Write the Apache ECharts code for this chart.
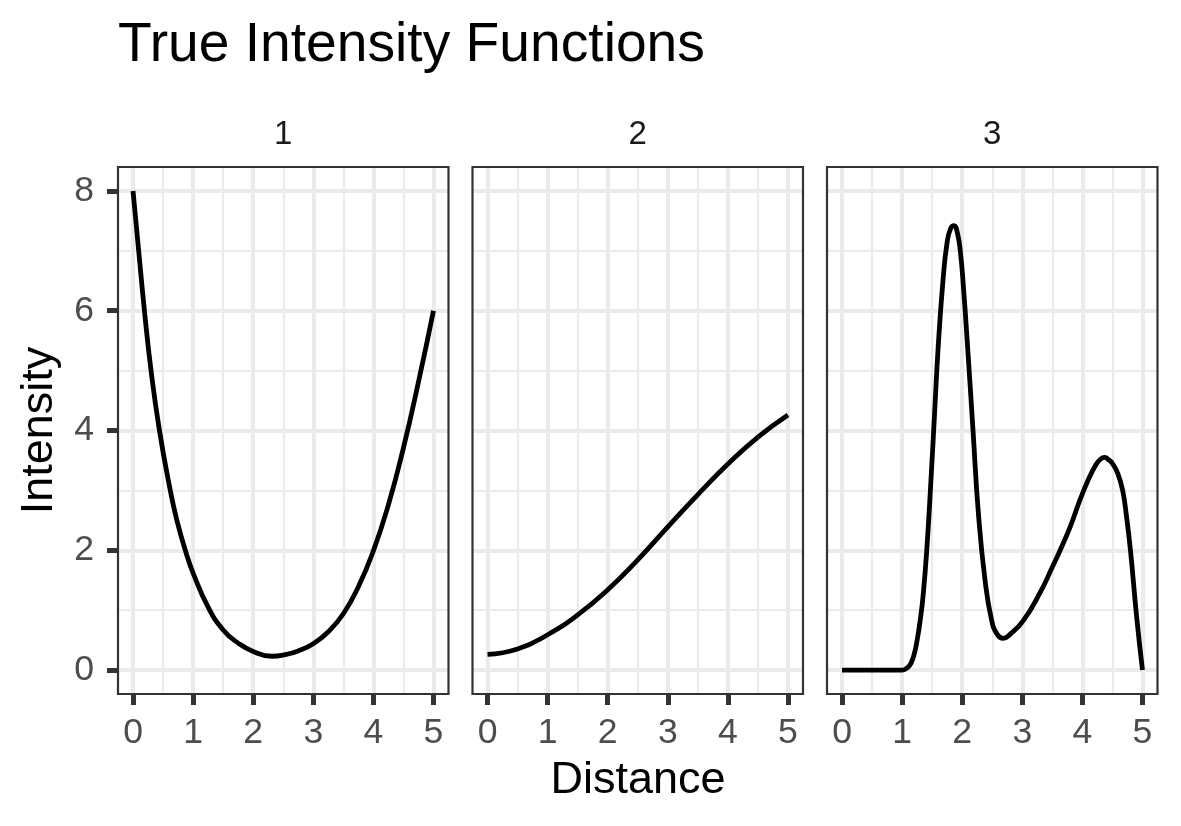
<!DOCTYPE html>
<html>
<head>
<meta charset="utf-8">
<title>True Intensity Functions</title>
<script src="https://cdn.jsdelivr.net/npm/echarts@6/dist/echarts.min.js"></script>
<style>
html, body { margin: 0; padding: 0; background: #ffffff; }
#chart { width: 1181px; height: 826px; }
</style>
</head>
<body>
<div id="chart"></div>
<script>
// panel 1 : dip in the middle
var dist_1 = [0, 0.094, 0.19, 0.30, 0.44, 0.62, 0.73, 0.87, 1.0, 1.25, 1.5, 1.75, 2.0, 2.31, 2.5, 2.75, 3.0, 3.25, 3.5, 3.75, 4.0, 4.25, 4.5, 4.75, 5.0];
var intensity_1 = [8, 7, 6, 5, 4, 3, 2.5, 2, 1.62, 1.05, 0.67, 0.45, 0.31, 0.23, 0.25, 0.32, 0.44, 0.64, 0.94, 1.39, 1.99, 2.76, 3.71, 4.81, 6.0];

// panel 2 : slow rise
var dist_2 = [0, 0.5, 1, 1.5, 2, 2.5, 3, 3.5, 4, 4.5, 5];
var intensity_2 = [0.26, 0.35, 0.59, 0.92, 1.34, 1.84, 2.39, 2.93, 3.44, 3.89, 4.26];

// panel 3 : two bumps
var dist_3 = [0, 0.5, 1.0, 1.1, 1.15, 1.2, 1.25, 1.3, 1.35, 1.41, 1.48, 1.54, 1.60, 1.68, 1.75, 1.81, 1.865, 1.92, 1.97, 2.02, 2.09, 2.18, 2.27, 2.38, 2.49, 2.58, 2.68, 2.8, 3.02, 3.3, 3.5, 3.63, 3.8, 3.96, 4.1, 4.22, 4.3, 4.37, 4.45, 4.5, 4.59, 4.67, 4.73, 4.80, 4.90, 5.0];
var intensity_3 = [0, 0, 0, 0.05, 0.12, 0.26, 0.5, 0.82, 1.25, 2.0, 3.17, 4.28, 5.39, 6.5, 7.15, 7.38, 7.42, 7.3, 6.98, 6.4, 5.39, 4.0, 2.61, 1.5, 0.83, 0.6, 0.53, 0.6, 0.83, 1.3, 1.72, 2.0, 2.4, 2.84, 3.18, 3.42, 3.52, 3.55, 3.5, 3.45, 3.28, 3.0, 2.6, 2.0, 0.92, 0];

var panel_names = ['1', '2', '3'];
var x_breaks = [0, 1, 2, 3, 4, 5];
var x_minor = [0.5, 1.5, 2.5, 3.5, 4.5];
var y_breaks = [0, 2, 4, 6, 8];
var y_minor = [1, 3, 5, 7];

window.onload = function(){
	var font = '"Liberation Sans", Arial, Helvetica, sans-serif';
	var chart = echarts.init(document.getElementById('chart'));

	var dists = [dist_1, dist_2, dist_3];
	var intensities = [intensity_1, intensity_2, intensity_3];

	var panel_left = [118, 472.5, 827];
	var panel_w = 330.5;
	var panel_top = 167;
	var panel_h = 527;

	var grids = [], x_axes = [], y_axes = [], series = [], texts = [];

	for (var i = 0; i < 3; i++) {
		grids.push({
			left: panel_left[i], top: panel_top, width: panel_w, height: panel_h,
			show: true, z: 5,
			backgroundColor: 'transparent',
			borderColor: '#333333', borderWidth: 2.2
		});
		// major breaks (labels + ticks + major grid)
		// onZero off, otherwise the axis sits on the other axis' zero
		x_axes.push({
			type: 'value', gridIndex: i, position: 'bottom',
			min: -0.25, max: 5.25,
			axisLine: {show: false, onZero: false},
			axisTick: {show: true, length: 11, customValues: x_breaks,
				lineStyle: {color: '#333333', width: 5}},
			axisLabel: {show: true, customValues: x_breaks, margin: 21,
				fontSize: 35.6, fontFamily: font, color: '#4D4D4D'},
			splitLine: {show: true, lineStyle: {color: '#EBEBEB', width: 4}}
		});
		// minor breaks, only the grid lines
		x_axes.push({
			type: 'value', gridIndex: i, position: 'top',
			min: -0.25, max: 5.25,
			axisLine: {show: false, onZero: false},
			axisTick: {show: false, customValues: x_minor},
			axisLabel: {show: false},
			splitLine: {show: true, lineStyle: {color: '#EBEBEB', width: 2.2}}
		});
		y_axes.push({
			type: 'value', gridIndex: i, position: 'left',
			min: -0.4, max: 8.4,
			axisLine: {show: false, onZero: false},
			axisTick: {show: i == 0, length: 11, customValues: y_breaks,
				lineStyle: {color: '#333333', width: 5}},
			axisLabel: {show: i == 0, customValues: y_breaks, margin: 24,
				padding: [6, 0, 0, 0],
				fontSize: 35.6, fontFamily: font, color: '#4D4D4D'},
			splitLine: {show: true, lineStyle: {color: '#EBEBEB', width: 4}}
		});
		y_axes.push({
			type: 'value', gridIndex: i, position: 'right',
			min: -0.4, max: 8.4,
			axisLine: {show: false, onZero: false},
			axisTick: {show: false, customValues: y_minor},
			axisLabel: {show: false},
			splitLine: {show: true, lineStyle: {color: '#EBEBEB', width: 2.2}}
		});

		var pts = [];
		for (var k = 0; k < dists[i].length; k++) {
			pts.push([dists[i][k], intensities[i][k]]);
		}
		series.push({
			type: 'line', name: panel_names[i],
			xAxisIndex: i * 2, yAxisIndex: i * 2,
			data: pts,
			showSymbol: false, symbol: 'none',
			smooth: 0.5,
			lineStyle: {color: '#000000', width: 4.8, join: 'round', cap: 'butt'},
			z: 3
		});

		// facet strip label
		texts.push({
			type: 'text', x: panel_left[i] + panel_w / 2, y: 135,
			style: {text: panel_names[i], fontSize: 33, fontFamily: font, fill: '#1A1A1A',
				align: 'center', verticalAlign: 'middle'}
		});
	}

	texts.push({
		type: 'text', x: 118, y: 46,
		style: {text: 'True Intensity Functions', fontSize: 55.2, fontFamily: font, fill: '#000000',
			align: 'left', verticalAlign: 'middle'}
	});
	texts.push({
		type: 'text', x: 638, y: 781,
		style: {text: 'Distance', fontSize: 45, fontFamily: font, fill: '#000000',
			align: 'center', verticalAlign: 'middle'}
	});
	texts.push({
		type: 'text', x: 40, y: 430.5, rotation: Math.PI / 2,
		style: {text: 'Intensity', fontSize: 45, fontFamily: font, fill: '#000000',
			align: 'center', verticalAlign: 'middle'}
	});

	chart.setOption({
		backgroundColor: '#ffffff',
		animation: false,
		grid: grids,
		xAxis: x_axes,
		yAxis: y_axes,
		series: series,
		graphic: texts
	});
}
</script>
</body>
</html>
